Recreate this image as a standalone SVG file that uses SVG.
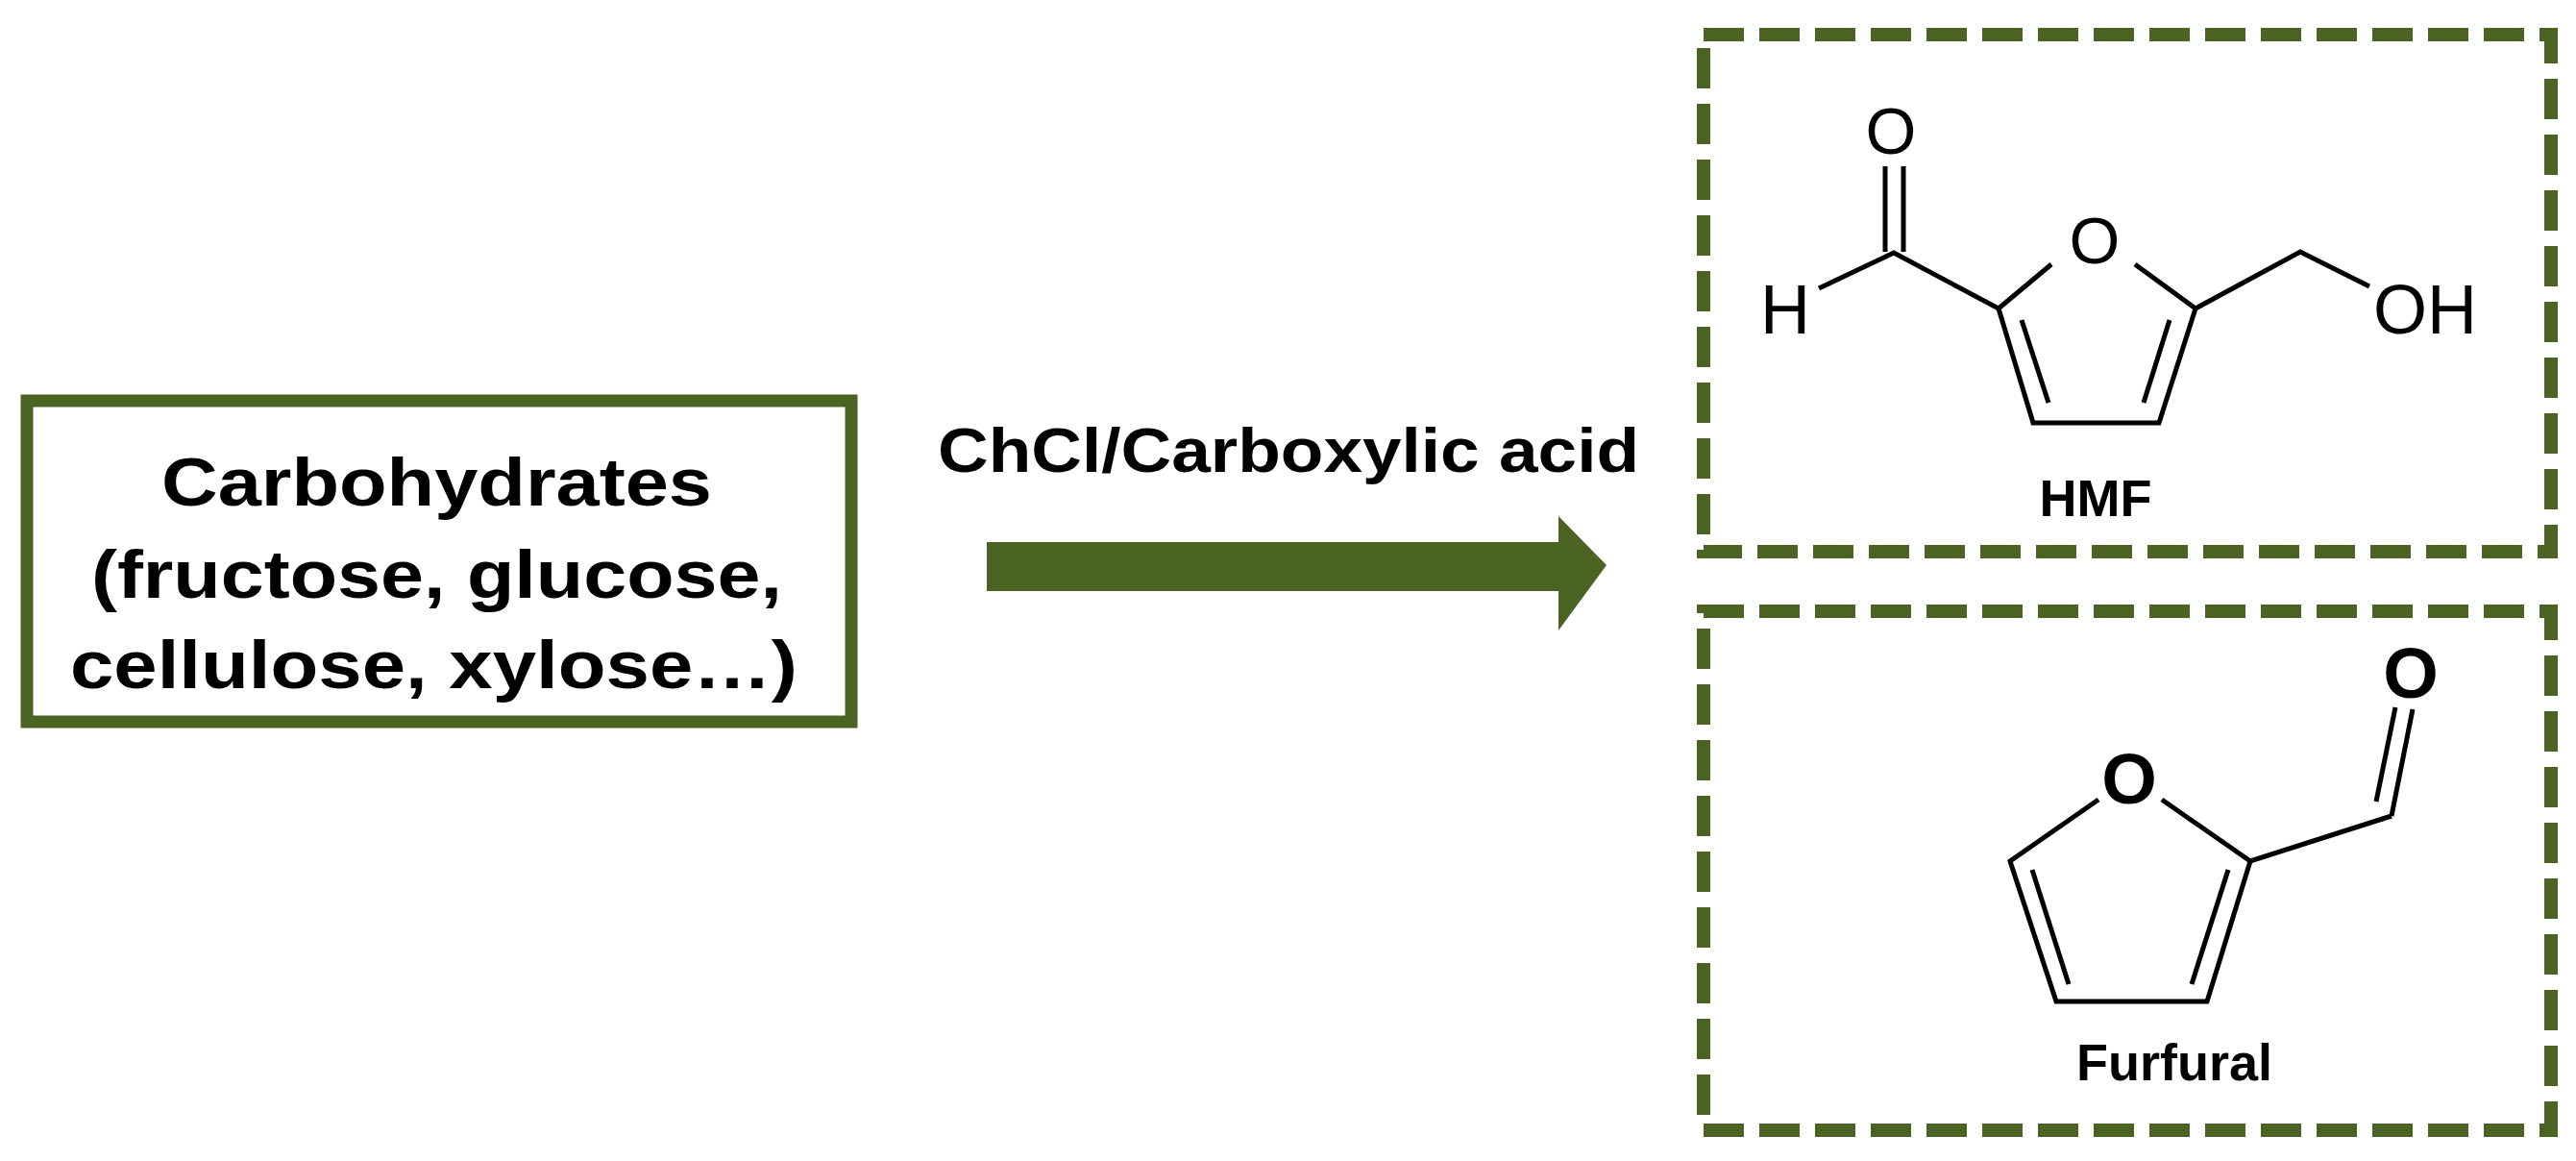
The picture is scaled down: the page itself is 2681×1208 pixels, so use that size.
<svg xmlns="http://www.w3.org/2000/svg" width="2681" height="1208" viewBox="0 0 2681 1208">
<style>
.t{font-family:"Liberation Sans",Arial,sans-serif;font-weight:bold;fill:#000}
.n{font-family:"Liberation Sans Narrow","Liberation Sans",Arial,sans-serif;font-weight:bold;fill:#000}
.a{font-family:"Liberation Sans",Arial,sans-serif;fill:#000}
.b{stroke:#000;stroke-width:5;fill:none}
.dash{fill:none;stroke:#4b6423;stroke-width:14;stroke-dasharray:42 16}
</style>
<rect width="2681" height="1208" fill="#fff"/>
<g id="carbohydrates">
<rect x="28" y="417" width="858" height="334" fill="#fff" stroke="#4b6423" stroke-width="13"/>
<text class="t" font-size="70" x="168" y="526" textLength="573" lengthAdjust="spacingAndGlyphs">Carbohydrates</text>
<text class="t" font-size="70" x="95" y="622" textLength="719" lengthAdjust="spacingAndGlyphs">(fructose, glucose,</text>
<text class="t" font-size="70" x="73" y="716" textLength="757" lengthAdjust="spacingAndGlyphs">cellulose, xylose…)</text>
</g>
<g id="connectors">
<polygon points="1027,564 1622,564 1622,537 1672,588 1622,656 1622,615 1027,615" fill="#4b6423"/>
<text class="t" font-size="64" x="976" y="491" textLength="730" lengthAdjust="spacingAndGlyphs">ChCl/Carboxylic acid</text>
</g>
<g id="hmf">
<rect x="1773" y="36" width="882" height="538" class="dash"/>
<text class="a" font-size="68" text-anchor="middle" x="1968" y="160">O</text>
<line class="b" x1="1962" y1="173" x2="1962" y2="262"/>
<line class="b" x1="1981" y1="173" x2="1981" y2="262"/>
<text class="a" font-size="72" text-anchor="middle" x="1858" y="347">H</text>
<polyline class="b" points="1893,300 1971,263 2080,321 2135,275"/>
<text class="a" font-size="68" text-anchor="middle" x="2180" y="274">O</text>
<polyline class="b" points="2222,275 2285,321 2247,440 2116,440 2080,321"/>
<line class="b" x1="2104" y1="333" x2="2132" y2="419"/>
<line class="b" x1="2258" y1="333" x2="2231" y2="419"/>
<polyline class="b" points="2285,321 2394,262 2466,298"/>
<text class="a" font-size="72" x="2470" y="347">OH</text>
<text class="n" font-size="54" text-anchor="middle" x="2181" y="537">HMF</text>
</g>
<g id="furfural">
<rect x="1773" y="636" width="882" height="540" class="dash"/>
<text class="t" font-size="74" text-anchor="middle" x="2509" y="726">O</text>
<line class="b" x1="2511" y1="738" x2="2489" y2="849"/>
<line class="b" x1="2493" y1="736" x2="2473" y2="834"/>
<polyline class="b" points="2489,849 2342,896 2250,832"/>
<text class="t" font-size="74" text-anchor="middle" x="2216" y="836">O</text>
<polyline class="b" points="2184,832 2092,896 2140,1042 2297,1042 2342,896"/>
<line class="b" x1="2115" y1="905" x2="2153" y2="1024"/>
<line class="b" x1="2319" y1="905" x2="2281" y2="1024"/>
<text class="n" font-size="54" text-anchor="middle" x="2263" y="1124">Furfural</text>
</g>
</svg>
